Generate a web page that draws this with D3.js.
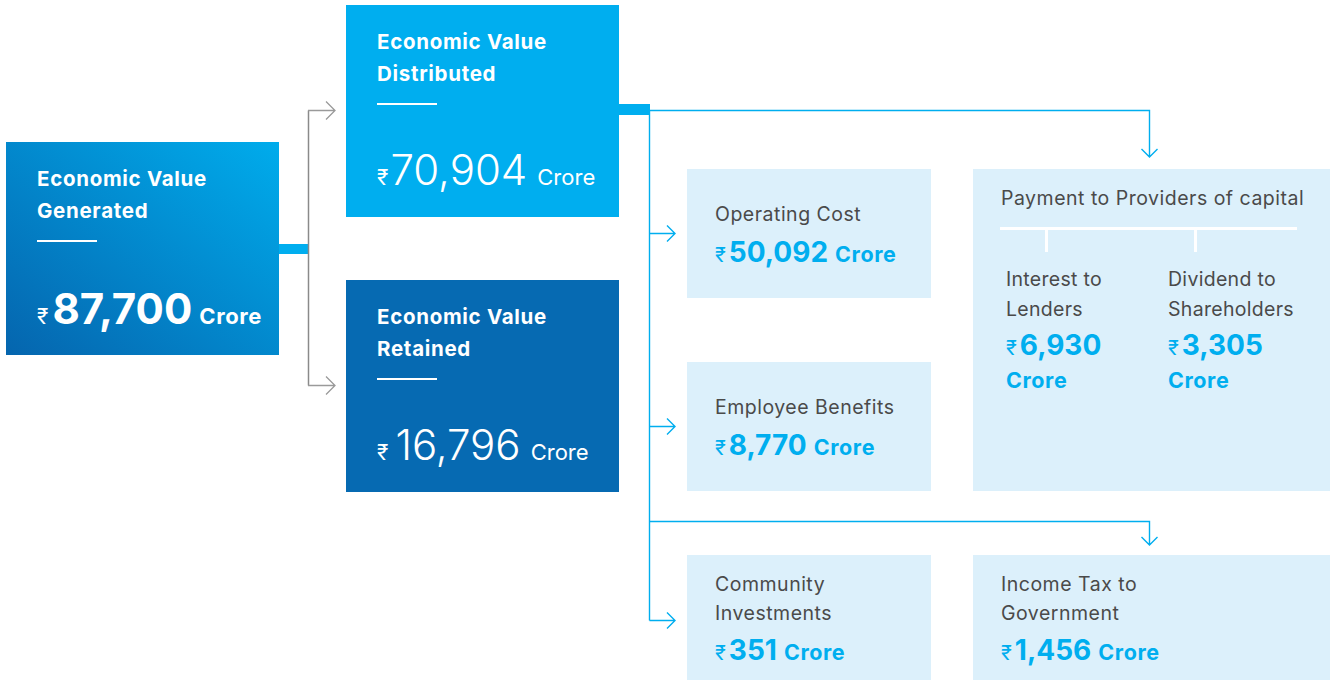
<!DOCTYPE html>
<html>
<head>
<meta charset="utf-8">
<script src="https://cdn.jsdelivr.net/npm/d3@7"></script>
<style>
  body { margin: 0; background: #fff; }
  svg { display: block; font-family: Inter, Roboto, "Noto Sans", sans-serif; }
</style>
</head>
<body>
<div id="chart"></div>
<script>
// data
const mainNames = ["Economic Value Generated", "Economic Value Distributed", "Economic Value Retained"];
const mainTitles = [["Economic Value", "Generated"], ["Economic Value", "Distributed"], ["Economic Value", "Retained"]];
const mainValues = [87700, 70904, 16796];

const subNames = ["Operating Cost", "Employee Benefits", "Community Investments", "Payment to Providers of capital", "Income Tax to Government"];
const subTitles = [["Operating Cost"], ["Employee Benefits"], ["Community", "Investments"], ["Payment to Providers of capital"], ["Income Tax to", "Government"]];
const subValues = [50092, 8770, 351, null, 1456];

const capitalNames = [["Interest to", "Lenders"], ["Dividend to", "Shareholders"]];
const capitalValues = [6930, 3305];

const unit = "Crore";
const rupee = "\u20B9";

const width = 1330, height = 680;
const fmt = d3.format(",");

const cyan = "#00aeef", dark = "#066ab2", light = "#dcf0fb", grey = "#4a4a4a";

const svg = d3.select("#chart").append("svg")
    .attr("width", width)
    .attr("height", height);

// gradient for the generated box
const grad = svg.append("defs").append("linearGradient")
    .attr("id", "genGrad")
    .attr("x1", 0).attr("y1", 1).attr("x2", 1).attr("y2", 0);
grad.append("stop").attr("offset", "0%").attr("stop-color", "#0565ae");
grad.append("stop").attr("offset", "100%").attr("stop-color", "#00acec");

// layout scales
const colX = d3.scaleOrdinal().domain(["gen", "dist", "sub", "right"]).range([6, 346, 687, 973]);
const colW = d3.scaleOrdinal().domain(["gen", "dist", "sub", "right"]).range([273, 273, 244, 357]);
const rowY = d3.scalePoint().domain([0, 1, 2]).range([169, 555]);

// main boxes
const mainBoxes = [
    { col: "gen", y: 142, h: 213, fill: "url(#genGrad)", light: false },
    { col: "dist", y: 5, h: 212, fill: cyan, light: true },
    { col: "dist", y: 280, h: 212, fill: dark, light: true }
];

// connectors (behind boxes)
const conn = svg.append("g");

// generated -> split
const splitX = 308;
const genMid = mainBoxes[0].y + mainBoxes[0].h / 2 + 0.5;
conn.append("rect")
    .attr("x", colX("gen") + colW("gen")).attr("y", genMid - 5)
    .attr("width", splitX - colX("gen") - colW("gen")).attr("height", 10)
    .attr("fill", cyan);
const distArrowY = 110.5, retArrowY = 385.5;
conn.append("path")
    .attr("d", `M${splitX + 0.5},${distArrowY}V${retArrowY}`)
    .attr("stroke", "#8a8a8a").attr("stroke-width", 1.5).attr("fill", "none");
[distArrowY, retArrowY].forEach(y => {
    conn.append("path")
        .attr("d", `M${splitX},${y}H${colX("dist") - 11}M${colX("dist") - 20},${y - 9}L${colX("dist") - 11},${y}L${colX("dist") - 20},${y + 9}`)
        .attr("stroke", "#9a9a9a").attr("stroke-width", 1.3).attr("fill", "none");
});

// distributed -> items
const trunkX = 649.5;
conn.append("rect")
    .attr("x", colX("dist") + colW("dist")).attr("y", 104)
    .attr("width", trunkX - colX("dist") - colW("dist") + 0.5).attr("height", 11)
    .attr("fill", cyan);

function line(d) {
    conn.append("path").attr("d", d)
        .attr("stroke", cyan).attr("stroke-width", 1.4)
        .attr("fill", "none");
}
const subArrowYs = [233.5, 426.5, 620.5];
line(`M${trunkX},110.5V${subArrowYs[2]}`);
subArrowYs.forEach(y => {
    const tip = colX("sub") - 12;
    line(`M${trunkX},${y}H${tip}M${tip - 8},${y - 8}L${tip},${y}L${tip - 8},${y + 8}`);
});
const downX = 1149.5;
[[110.5, 157], [521.5, 545]].forEach(([y0, tip]) => {
    line(`M${trunkX},${y0}H${downX}V${tip}M${downX - 8},${tip - 8}L${downX},${tip}L${downX + 8},${tip - 8}`);
});

// draw main boxes
const mg = svg.append("g").selectAll("g")
    .data(mainBoxes)
    .join("g")
    .attr("transform", d => `translate(${colX(d.col)},${d.y})`);

mg.append("rect")
    .attr("width", d => colW(d.col))
    .attr("height", d => d.h)
    .attr("fill", d => d.fill);

mg.each(function (d, i) {
    const g = d3.select(this);
    const tx = 31;
    mainTitles[i].forEach((t, j) => {
        g.append("text")
            .attr("x", tx).attr("y", 44 + j * 32)
            .attr("fill", "#fff").attr("font-size", 20.5).attr("font-weight", 700)
            .attr("letter-spacing", 0.7)
            .text(t);
    });
    g.append("rect")
        .attr("x", tx).attr("y", 98).attr("width", 60).attr("height", 2)
        .attr("fill", "#fff");
    const v = g.append("text")
        .attr("x", tx).attr("y", d.light ? 180 : 182)
        .attr("fill", "#fff");
    v.append("tspan").attr("font-size", 21).attr("font-weight", 400).text(rupee);
    v.append("tspan").attr("dx", i === 0 ? 4 : i === 1 ? 2 : 7).attr("font-size", 42)
        .attr("font-weight", d.light ? 300 : 700).text(fmt(mainValues[i]));
    v.append("tspan").attr("dx", d.light ? 10 : 7).attr("font-size", 22)
        .attr("letter-spacing", d.light ? 0 : 0.6)
        .attr("font-weight", d.light ? 400 : 700).text(unit);
});

// sub boxes
const subBoxes = [
    { col: "sub", y: rowY(0), h: 129 },
    { col: "sub", y: 362, h: 129 },
    { col: "sub", y: rowY(2), h: 125 },
    { col: "right", y: rowY(0), h: 322 },
    { col: "right", y: rowY(2), h: 125 }
];

const sg = svg.append("g").selectAll("g")
    .data(subBoxes)
    .join("g")
    .attr("transform", d => `translate(${colX(d.col)},${d.y})`);

sg.append("rect")
    .attr("width", d => colW(d.col))
    .attr("height", d => d.h)
    .attr("fill", light);

function valueText(g, x, y, value, split) {
    const t = g.append("text").attr("x", x).attr("y", y).attr("fill", cyan).attr("font-weight", 700);
    t.append("tspan").attr("font-size", 20).attr("font-weight", 400).text(rupee);
    t.append("tspan").attr("dx", 3).attr("font-size", 28).text(fmt(value));
    if (split) {
        g.append("text").attr("x", x).attr("y", y + 33)
            .attr("fill", cyan).attr("font-weight", 700).attr("font-size", 21.5)
            .attr("letter-spacing", 0.6).text(unit);
    } else {
        t.append("tspan").attr("dx", 7).attr("font-size", 21.5)
            .attr("letter-spacing", 0.6).text(unit);
    }
}

sg.each(function (d, i) {
    const g = d3.select(this);
    const tx = 28;
    const lines = subTitles[i];
    lines.forEach((t, j) => {
        g.append("text")
            .attr("x", tx).attr("y", (i === 3 ? 36 : 52) + j * 29 - (lines.length > 1 ? 16 : 0))
            .attr("fill", grey).attr("font-size", 19.5).attr("font-weight", 400)
            .attr("letter-spacing", 0.5)
            .text(t);
    });
    if (subValues[i] != null) {
        valueText(g, tx, lines.length > 1 ? 105 : 93, subValues[i], false);
    }
});

// capital breakdown inside the payment box
const pay = d3.select(sg.nodes()[3]);
pay.append("rect").attr("x", 27).attr("y", 58).attr("width", 297).attr("height", 3).attr("fill", "#fff");
const capX = d3.scaleOrdinal().domain([0, 1]).range([33, 195]);
const tickX = d3.scaleOrdinal().domain([0, 1]).range([72, 221]);
capitalValues.forEach((v, i) => {
    pay.append("rect").attr("x", tickX(i)).attr("y", 59).attr("width", 3).attr("height", 24).attr("fill", "#fff");
    capitalNames[i].forEach((t, j) => {
        pay.append("text")
            .attr("x", capX(i)).attr("y", 117 + j * 30)
            .attr("fill", grey).attr("font-size", 19.5).attr("letter-spacing", 0.3).text(t);
    });
    valueText(pay, capX(i), 186, v, true);
});
</script>
</body>
</html>
